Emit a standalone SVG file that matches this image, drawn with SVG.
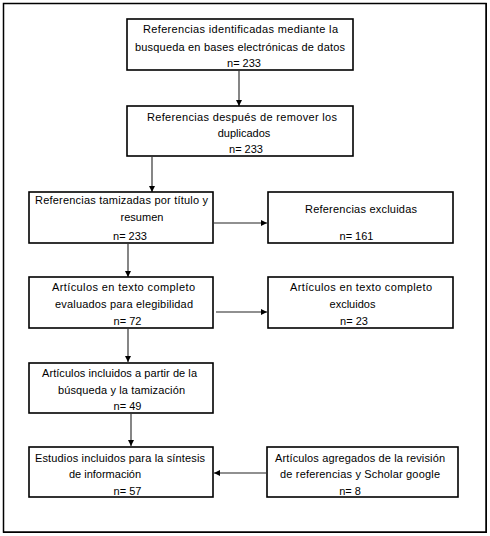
<svg xmlns="http://www.w3.org/2000/svg" width="490" height="536" viewBox="0 0 490 536">
<style>
.box{fill:#fff;stroke:#000;stroke-width:1.6}
.t{font-family:"Liberation Sans",Arial,sans-serif;font-size:11px;fill:#000;text-anchor:middle}
.c{stroke:#222;stroke-width:1.1;fill:none}
</style>
<defs>
<marker id="ah" markerWidth="6" markerHeight="6" refX="6" refY="3" orient="auto" markerUnits="userSpaceOnUse">
<path d="M0,0 L6,3 L0,6 Z" fill="#000"/>
</marker>
</defs>
<rect width="490" height="536" fill="#fff"/>
<rect x="3.5" y="3.5" width="482.5" height="528.5" fill="none" stroke="#000" stroke-width="1.5"/>
<line x1="486.5" y1="3" x2="486.5" y2="533" stroke="#000" stroke-width="1"/>
<line x1="3" y1="532.5" x2="487" y2="532.5" stroke="#000" stroke-width="1"/>

<g id="connectors">
<line class="c" x1="239" y1="71" x2="239" y2="106" marker-end="url(#ah)"/>
<line class="c" x1="152" y1="157" x2="152" y2="192" marker-end="url(#ah)"/>
<line class="c" x1="128" y1="244" x2="128" y2="277" marker-end="url(#ah)"/>
<line class="c" x1="214" y1="223" x2="267" y2="223" marker-end="url(#ah)"/>
<line class="c" x1="216" y1="312" x2="267" y2="312" marker-end="url(#ah)"/>
<line class="c" x1="128" y1="329" x2="128" y2="362" marker-end="url(#ah)"/>
<line class="c" x1="131" y1="414" x2="131" y2="446" marker-end="url(#ah)"/>
<line class="c" x1="266" y1="473" x2="214" y2="473" marker-end="url(#ah)"/>
</g>

<g id="n1">
<rect class="box" x="127" y="19" width="226" height="51"/>
<text class="t" x="240.5" y="33" textLength="195">Referencias identificadas mediante la</text>
<text class="t" x="240" y="51" textLength="210">busqueda en bases electrónicas de datos</text>
<text class="t" x="244" y="67">n= 233</text>
</g>

<g id="n2">
<rect class="box" x="127" y="106" width="226" height="50"/>
<text class="t" x="242" y="121" textLength="190">Referencias después de remover los</text>
<text class="t" x="244" y="137">duplicados</text>
<text class="t" x="246" y="153">n= 233</text>
</g>

<g id="n3">
<rect class="box" x="29" y="192" width="184" height="51"/>
<text class="t" x="121.5" y="204" textLength="173">Referencias tamizadas por título y</text>
<text class="t" x="142" y="221">resumen</text>
<text class="t" x="130" y="240">n= 233</text>
</g>

<g id="n4">
<rect class="box" x="268" y="192" width="185" height="51"/>
<text class="t" x="361" y="213" textLength="112">Referencias excluidas</text>
<text class="t" x="356.5" y="240">n= 161</text>
</g>

<g id="n5">
<rect class="box" x="29" y="277" width="184" height="51"/>
<text class="t" x="123.5" y="291" textLength="143">Artículos en texto completo</text>
<text class="t" x="124" y="308" textLength="138">evaluados para elegibilidad</text>
<text class="t" x="127.5" y="325">n= 72</text>
</g>

<g id="n6">
<rect class="box" x="268" y="277" width="185" height="51"/>
<text class="t" x="361" y="291" textLength="142">Artículos en texto completo</text>
<text class="t" x="352.5" y="308">excluidos</text>
<text class="t" x="354" y="325">n= 23</text>
</g>

<g id="n7">
<rect class="box" x="29" y="363" width="184" height="50"/>
<text class="t" x="119.5" y="377" textLength="155">Artículos incluidos a partir de la</text>
<text class="t" x="121.5" y="394" textLength="127">búsqueda y la tamización</text>
<text class="t" x="127.5" y="410">n= 49</text>
</g>

<g id="n8">
<rect class="box" x="29" y="447" width="184" height="50"/>
<text class="t" x="120" y="462" textLength="170">Estudios incluidos para la síntesis</text>
<text class="t" x="105" y="478">de información</text>
<text class="t" x="127.5" y="495">n= 57</text>
</g>

<g id="n9">
<rect class="box" x="267" y="447" width="191" height="50"/>
<text class="t" x="360" y="462" textLength="170">Artículos agregados de la revisión</text>
<text class="t" x="360" y="478" textLength="160">de referencias y Scholar google</text>
<text class="t" x="350" y="495">n= 8</text>
</g>
</svg>
